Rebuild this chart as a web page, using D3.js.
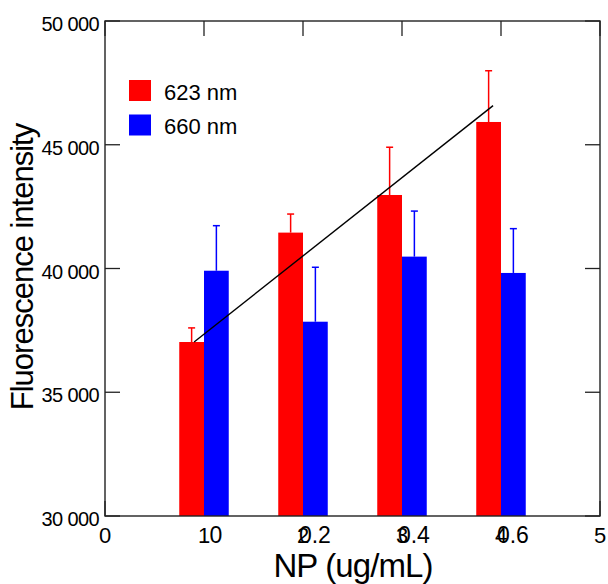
<!DOCTYPE html>
<html><head><meta charset="utf-8">
<script src="https://cdn.jsdelivr.net/npm/d3@7"></script>
<style>body{margin:0;background:#fff}svg{display:block}text{font-family:"Liberation Sans",Arial,sans-serif}</style>
</head><body>
<div id="chart"></div>
<script>
// ---- data ----
const categories = ["0", "0.2", "0.4", "0.6"];
const positions = [1, 2, 3, 4];
const series623 = [37030, 41450, 42970, 45920];
const err623 = [570, 750, 1930, 2070];
const series660 = [39910, 37850, 40480, 39820];
const err660 = [1820, 2200, 1840, 1790];
const seriesNames = ["623 nm", "660 nm"];
const seriesColors = ["#ff0000", "#0000ff"];
const yTicks = [30000, 35000, 40000, 45000, 50000];
const yTickLabels = ["30 000", "35 000", "40 000", "45 000", "50 000"];
const xTicks = [0, 1, 2, 3, 4, 5];
const xTickLabels = ["0", "1", "2", "3", "4", "5"];
const trendX = [0.9, 3.92];
const trendY = [37030, 46580];

const W = 608, H = 584;
const svg = d3.select("#chart").append("svg").attr("width", W).attr("height", H);
const x = d3.scaleLinear().domain([0, 5]).range([105, 600]);
const y = d3.scaleLinear().domain([30000, 50000]).range([516, 21]);
const barW = 0.25;
const axisColor = "#222";

// ticks
const tickLen = 15;
const gT = svg.append("g");
yTicks.forEach(v => {
  gT.append("line").attr("x1", x(0)).attr("x2", x(0) + tickLen).attr("y1", y(v)).attr("y2", y(v)).attr("stroke", axisColor).attr("stroke-width", 1.3);
  gT.append("line").attr("x1", x(5)).attr("x2", x(5) - tickLen).attr("y1", y(v)).attr("y2", y(v)).attr("stroke", axisColor).attr("stroke-width", 1.3);
});
xTicks.forEach(v => {
  gT.append("line").attr("x1", x(v)).attr("x2", x(v)).attr("y1", y(50000)).attr("y2", y(50000) + tickLen).attr("stroke", axisColor).attr("stroke-width", 1.3);
  gT.append("line").attr("x1", x(v)).attr("x2", x(v)).attr("y1", y(30000)).attr("y2", y(30000) - tickLen).attr("stroke", axisColor).attr("stroke-width", 1.3);
});

// bars
const data = positions.map((p, i) => ({p, i}));
svg.append("g").selectAll("rect.r").data(data).join("rect")
  .attr("x", d => x(d.p - barW)).attr("width", x(barW) - x(0))
  .attr("y", d => y(series623[d.i])).attr("height", d => y(30000) - y(series623[d.i]))
  .attr("fill", seriesColors[0]);
svg.append("g").selectAll("rect.b").data(data).join("rect")
  .attr("x", d => x(d.p)).attr("width", x(barW) - x(0))
  .attr("y", d => y(series660[d.i])).attr("height", d => y(30000) - y(series660[d.i]))
  .attr("fill", seriesColors[1]);

// error bars
function errBars(vals, errs, off, col) {
  const g = svg.append("g").attr("stroke", col).attr("stroke-width", 1.5);
  data.forEach(d => {
    const cx = x(d.p + off);
    g.append("line").attr("x1", cx).attr("x2", cx).attr("y1", y(vals[d.i])).attr("y2", y(vals[d.i] + errs[d.i]));
    g.append("line").attr("x1", cx - 3.5).attr("x2", cx + 3.5).attr("y1", y(vals[d.i] + errs[d.i])).attr("y2", y(vals[d.i] + errs[d.i]));
  });
}
errBars(series623, err623, -barW / 2, seriesColors[0]);
errBars(series660, err660, barW / 2, seriesColors[1]);

// trend line
svg.append("line").attr("x1", x(trendX[0])).attr("y1", y(trendY[0])).attr("x2", x(trendX[1])).attr("y2", y(trendY[1]))
  .attr("stroke", "#000").attr("stroke-width", 1.4);

// frame
svg.append("rect").attr("x", x(0)).attr("y", y(50000)).attr("width", x(5) - x(0)).attr("height", y(30000) - y(50000))
  .attr("fill", "none").attr("stroke", axisColor).attr("stroke-width", 1.4);

// y tick labels
svg.append("g").selectAll("text").data(yTicks).join("text")
  .attr("x", 99).attr("y", d => y(d) + 10).attr("text-anchor", "end")
  .attr("font-size", 20).attr("letter-spacing", "-0.6px").attr("fill", "#000")
  .text((d, i) => yTickLabels[i]);

// x numeric tick labels
svg.append("g").selectAll("text").data(xTicks).join("text")
  .attr("x", d => x(d)).attr("y", 543).attr("text-anchor", "middle")
  .attr("font-size", 22).attr("fill", "#000")
  .text((d, i) => xTickLabels[i]);

// category labels
svg.append("g").selectAll("text").data(data).join("text")
  .attr("x", d => x(d.p + 0.12)).attr("y", 543).attr("text-anchor", "middle")
  .attr("font-size", 23).attr("fill", "#000")
  .text(d => categories[d.i]);

// axis titles
svg.append("text").attr("x", 353).attr("y", 577).attr("text-anchor", "middle")
  .attr("font-size", 33).attr("letter-spacing", "-0.9px").attr("fill", "#000").text("NP (ug/mL)");
svg.append("text").attr("transform", "translate(33,267) rotate(-90)").attr("text-anchor", "middle")
  .attr("font-size", 31).attr("letter-spacing", "-1px").attr("fill", "#000").text("Fluorescence intensity");

// legend
const leg = svg.append("g");
seriesNames.forEach((n, i) => {
  leg.append("rect").attr("x", 129).attr("y", 80 + i * 34.5).attr("width", 22).attr("height", 21).attr("fill", seriesColors[i]);
  leg.append("text").attr("x", 164).attr("y", 100 + i * 34.3).attr("font-size", 22).attr("fill", "#000").text(n);
});
</script>
</body></html>
